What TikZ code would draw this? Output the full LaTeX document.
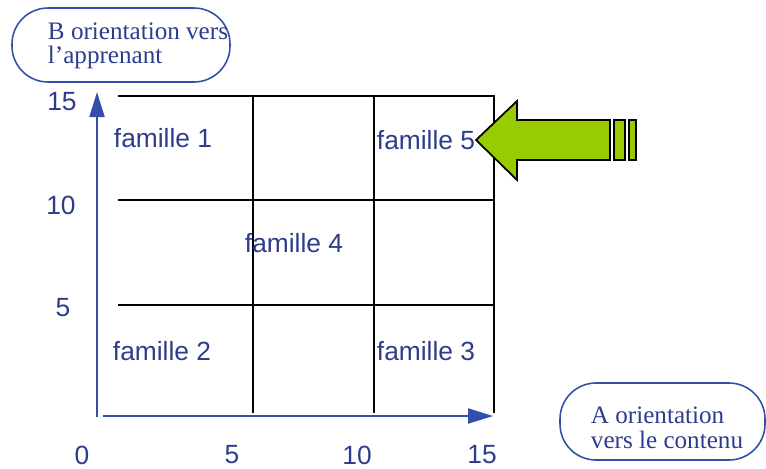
\documentclass[tikz,border=0pt]{standalone}
\usepackage{fontspec}
\setmainfont{Liberation Serif}
\setsansfont{Liberation Sans}
\usepackage{tikz}
\usetikzlibrary{arrows.meta, positioning}
\usepackage{xcolor}
\definecolor{axisblue}{RGB}{50,80,170}
\definecolor{textblue}{RGB}{45,60,140}
\definecolor{arrowgreen}{RGB}{153,204,0}
\tikzset{
    % Families in the grid
    famtext/.style={font=\sffamily\fontsize{15}{18}\selectfont, text=textblue, inner sep=0pt},
    % Axis ticks
    ticktext/.style={font=\sffamily\fontsize{15}{18}\selectfont, text=textblue, inner sep=0pt},
    % Axis titles
    axtitle/.style={font=\fontsize{14.3}{14}\selectfont, text=textblue, align=left, inner sep=0pt},
    axbox/.style={draw=axisblue, line width=0.9pt, rounded corners=0.72cm},
    axarrow/.style={-{Triangle[length=0.5cm, width=0.3cm]}, axisblue, line width=1.2pt},
    % Grid
    gridline/.style={black, line width=1.2pt},
    % Pointer
    bigarrow/.style={draw=black, fill=arrowgreen, line width=1pt, line join=miter},
}
\begin{document}
\begin{tikzpicture}[x=0.02cm, y=-0.02cm]
\useasboundingbox (0,0) rectangle (766,468);

% grid
\draw[gridline] (118,96) -- (495,96);
\draw[gridline] (118,200) -- (494,200);
\draw[gridline] (118,305) -- (494,305);
\foreach \gx in {253,374,494}
    \draw[gridline] (\gx,96) -- (\gx,413);

% axes
\coordinate (yfoot) at (97,417);
\coordinate (ytop)  at (97,92);
\coordinate (xfoot) at (103,416);
\coordinate (xtip)  at (493,416);
\draw[axarrow] (yfoot) -- (ytop);
\draw[axarrow] (xfoot) -- (xtip);

\node[ticktext] (y15) at (62,102) {15};
\node[ticktext] (y10) at (61,205) {10};
\node[ticktext] (y5)  at (63,308) {5};
\node[ticktext] (x0)  at (82,455) {0};
\node[ticktext] (x5)  at (232,455) {5};
\node[ticktext] (x10) at (357,455) {10};
\node[ticktext] (x15) at (482,455) {15};

% families
\node[famtext] (f1) at (163,138) {famille 1};
\node[famtext] (f5) at (426,140) {famille 5};
\node[famtext] (f4) at (294,243) {famille 4};
\node[famtext] (f2) at (162,351) {famille 2};
\node[famtext] (f3) at (426,351) {famille 3};

% axis titles
\draw[axbox] (12,8) rectangle (230,82);
\node[axtitle] (btitle) at (138,46) {B orientation vers\\l’apprenant};
\draw[axbox] (560,383) rectangle (765,460);
\node[axtitle] (atitle) at (667,428) {A orientation\\vers le contenu};

% green pointer
\draw[bigarrow] (476,140) -- (517,101) -- (517,120) -- (610,120)
    -- (610,160) -- (517,160) -- (517,180) -- cycle;
\draw[bigarrow] (614,120) rectangle (625,160);
\draw[bigarrow] (629,120) rectangle (636,160);
\end{tikzpicture}
\end{document}
